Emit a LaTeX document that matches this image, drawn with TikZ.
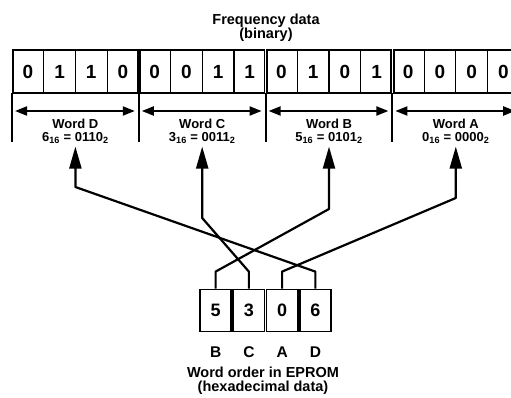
\documentclass[tikz,border=0pt]{standalone}
\usepackage{fontspec}
\setmainfont{Liberation Sans}
\usetikzlibrary{arrows.meta}

\tikzset{
	bit/.style={minimum width=31.7pt, minimum height=43pt, inner sep=0pt, outer sep=0pt, font=\bfseries\fontsize{19}{19}\selectfont},
	frame/.style={line width=1.8pt},
	divider/.style={line width=1.2pt},
	sep/.style={line width=2pt},
	span/.style={line width=2pt, {Triangle[length=12pt,width=9pt]}-{Triangle[length=12pt,width=9pt]}},
	wordlab/.style={align=center, inner sep=1pt, font=\bfseries\fontsize{13}{13}\selectfont},
	cell/.style={draw, line width=1.8pt, minimum width=31.2pt, minimum height=42pt, inner sep=0pt, font=\bfseries\fontsize{18}{18}\selectfont},
	letter/.style={inner sep=0pt, font=\bfseries\fontsize{15.5}{15.5}\selectfont},
	caption/.style={align=center, font=\bfseries\fontsize{14.5}{14.5}\selectfont},
	link/.style={line width=2.2pt, line join=round, -{Triangle[length=22pt,width=12pt]}}
}

\begin{document}
\begin{tikzpicture}[x=1pt, y=1pt]
		\useasboundingbox (0,0) rectangle (511,397);
		\clip (0,0) rectangle (511,397);
		
		%Titel
		\node[caption] (title) at (266,369) {Frequency data\\(binary)};
		
		%Bitreihe
		\foreach \b [count=\i from 0] in {0,1,1,0,0,0,1,1,0,1,0,1,0,0,0,0} {
			\node[bit] (b\i) at (27.85+31.7*\i, 325.5) {\b};
		}
		\foreach \i in {0,1,2,4,5,6,8,9,10,12,13,14} {
			\draw[divider] (b\i.north east) -- (b\i.south east);
		}
		
		%Woerter
		\foreach \w/\n/\h/\bits in {0/D/6/0110, 1/C/3/0011, 2/B/5/0101, 3/A/0/0000} {
			\pgfmathtruncatemacro\first{4*\w}
			\pgfmathtruncatemacro\last{4*\w+3}
			\draw[frame] ([xshift=1.2pt]b\first.south west) rectangle ([xshift=-1.2pt]b\last.north east);
			\draw[sep] (b\first.south west) -- ++(0,-49);
			\draw[span] (15+126.8*\w,286) -- (134.8+126.8*\w,286);
			\node[wordlab] (w\n) at (75.4+126.8*\w,266) {Word \n\\\h\textsubscript{16} = \bits\textsubscript{2}};
		}
		
		%EPROM
		\foreach \d/\l [count=\i from 0] in {5/B,3/C,0/A,6/D} {
			\node[cell] (c\l) at (215.6+33.25*\i, 86.5) {\d};
			\node[letter] (l\l) at (c\l |- 0,45) {\l};
		}
		\node[caption] (eprom) at (263,16.5) {Word order in EPROM\\(hexadecimal data)};
		
		%Verbindungen
		\draw[link] (cD.north) -- ++(0,17) -- (wD.south |- 0,210) -- ([yshift=-2pt]wD.south);
		\draw[link] (cC.north) -- ++(0,17) -- (wC.south |- 0,179) -- ([yshift=-2pt]wC.south);
		\draw[link] (cB.north) -- ++(0,17) -- (wB.south |- 0,188) -- ([yshift=-2pt]wB.south);
		\draw[link] (cA.north) -- ++(0,17) -- (wA.south |- 0,199) -- ([yshift=-2pt]wA.south);
	\end{tikzpicture}
\end{document}
